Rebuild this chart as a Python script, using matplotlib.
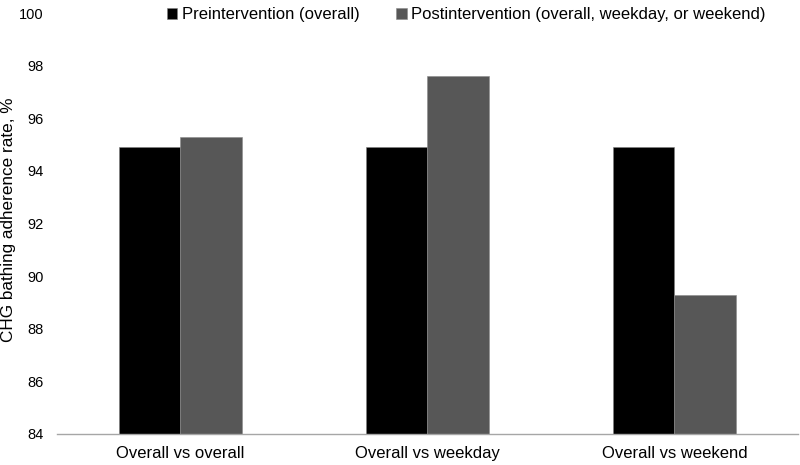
import numpy as np
import matplotlib
matplotlib.use("Agg")
import matplotlib.pyplot as plt

plt.rcParams['font.family'] = ['Liberation Sans', 'DejaVu Sans']

categories = ["Overall vs overall", "Overall vs weekday", "Overall vs weekend"]
pre_values = [94.9, 94.9, 94.9]
post_values = [95.3, 97.6, 89.3]
series_names = ["Preintervention (overall)",
                "Postintervention (overall, weekday, or weekend)"]

fig = plt.figure(figsize=(8, 4.65), dpi=100)
ax = fig.add_axes([0.0712, 0.0667, 0.9263, 0.905])

x = np.arange(len(categories))
w = 0.25
base = 84
ax.bar(x - w / 2, np.array(pre_values) - base, w, bottom=base,
       color="#000000", edgecolor="#7f7f7f", linewidth=0.4, label=series_names[0])
ax.bar(x + w / 2, np.array(post_values) - base, w, bottom=base,
       color="#575757", edgecolor="#8a8a8a", linewidth=0.4, label=series_names[1])

ax.set_xlim(-0.5, 2.5)
ax.set_ylim(84, 100)
ax.set_yticks(np.arange(84, 101, 2))
ax.set_xticks(x)
ax.set_xticklabels(categories, fontsize=12)
ax.tick_params(axis="y", labelsize=10.5, length=0, pad=9.5)
ax.tick_params(axis="x", length=0, pad=9)
for s in ["top", "right", "left"]:
    ax.spines[s].set_visible(False)
ax.spines["bottom"].set_color("#a6a6a6")
ax.spines["bottom"].set_linewidth(1)

fig.text(0.011, 0.527, "CHG bathing adherence rate, %", fontsize=12.3,
         rotation=90, ha="center", va="center")

ax.legend(loc="upper center", bbox_to_anchor=(0.552, 1.05), ncol=2, frameon=False,
          fontsize=12, handlelength=0.65, handleheight=0.65, handletextpad=0.25,
          columnspacing=2.2)

fig.savefig("out.png", dpi=100)
